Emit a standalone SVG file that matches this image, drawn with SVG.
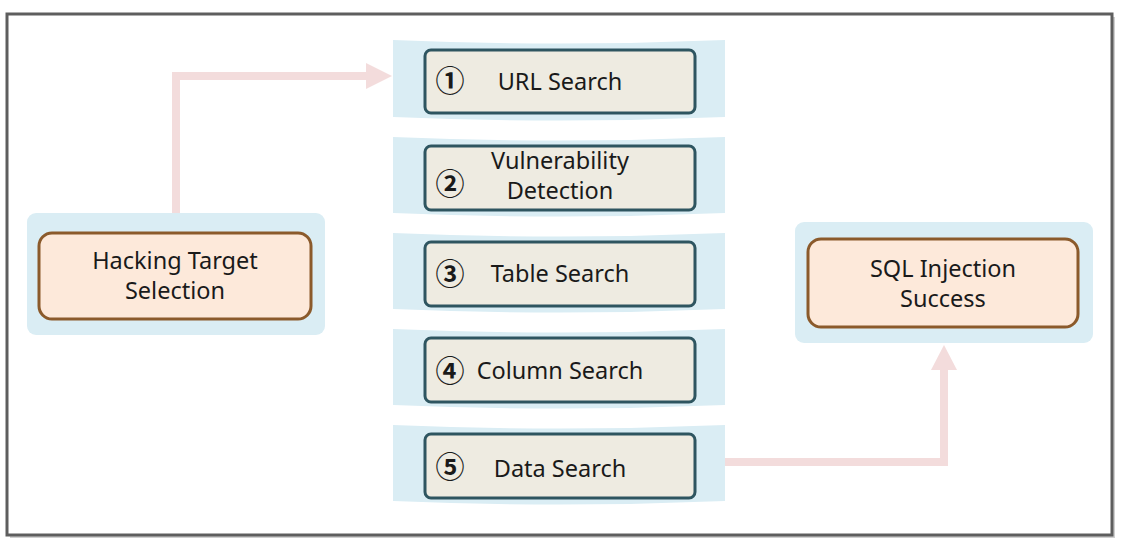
<svg xmlns="http://www.w3.org/2000/svg" width="1128" height="546" viewBox="0 0 1128 546">
<defs>
<style>
.band{fill:#daedf4}
.step{fill:#eeebe1;stroke:#2e5560;stroke-width:3}
.term{fill:#fde9da;stroke:#8b5a2b;stroke-width:3}
.t{font-family:"Noto Sans","Open Sans",sans-serif;font-size:23.5px;fill:#1a1a1a;text-anchor:middle}
.n{font-family:"Noto Sans CJK KR","DejaVu Sans",sans-serif;font-size:29px;font-weight:bold;fill:#1a1a1a;text-anchor:middle}
.con{fill:none;stroke:#f3dcdc;stroke-width:8}
.head{fill:#f3dcdc}
</style>
</defs>
<rect x="0" y="0" width="1128" height="546" fill="#ffffff"/>
<rect x="10" y="17" width="1105" height="521" fill="#d0d0d0"/>
<rect x="7" y="14" width="1105" height="521" fill="#ffffff" stroke="#5e5e5e" stroke-width="3"/>

<g id="connectors">
<polyline class="con" points="176,213 176,76 368,76"/>
<polygon class="head" points="366,63 392,76 366,89"/>
<polyline class="con" points="725,462 944,462 944,368"/>
<polygon class="head" points="931,370 944,345 957,370"/>
</g>

<g id="hacking-target">
<rect class="band" x="27" y="213" width="298" height="122" rx="9"/>
<rect class="term" x="39" y="233" width="272" height="86" rx="13"/>
<text class="t" x="175" y="269">Hacking Target</text>
<text class="t" x="175" y="299">Selection</text>
</g>

<g id="step1">
<path class="band" d="M393,40 Q559,47 725,40 L725,117 Q559,124 393,117 Z"/>
<rect class="step" x="425" y="50" width="270" height="63" rx="6"/>
<text class="n" x="450" y="92">①</text>
<text class="t" x="560" y="90">URL Search</text>
</g>

<g id="step2">
<path class="band" d="M393,137 Q559,144 725,137 L725,213 Q559,220 393,213 Z"/>
<rect class="step" x="425" y="146" width="270" height="64" rx="6"/>
<text class="n" x="450" y="195">②</text>
<text class="t" x="560" y="169">Vulnerability</text>
<text class="t" x="560" y="199">Detection</text>
</g>

<g id="step3">
<path class="band" d="M393,233 Q559,240 725,233 L725,309 Q559,316 393,309 Z"/>
<rect class="step" x="425" y="242" width="270" height="64" rx="6"/>
<text class="n" x="450" y="285">③</text>
<text class="t" x="560" y="282">Table Search</text>
</g>

<g id="step4">
<path class="band" d="M393,329 Q559,336 725,329 L725,405 Q559,412 393,405 Z"/>
<rect class="step" x="425" y="338" width="270" height="64" rx="6"/>
<text class="n" x="450" y="382">④</text>
<text class="t" x="560" y="379">Column Search</text>
</g>

<g id="step5">
<path class="band" d="M393,425 Q559,432 725,425 L725,501 Q559,508 393,501 Z"/>
<rect class="step" x="425" y="434" width="270" height="64" rx="6"/>
<text class="n" x="450" y="478">⑤</text>
<text class="t" x="560" y="477">Data Search</text>
</g>

<g id="sql-success">
<rect class="band" x="795" y="222" width="298" height="121" rx="9"/>
<rect class="term" x="808" y="239" width="270" height="88" rx="13"/>
<text class="t" x="943" y="277">SQL Injection</text>
<text class="t" x="943" y="307">Success</text>
</g>
</svg>
